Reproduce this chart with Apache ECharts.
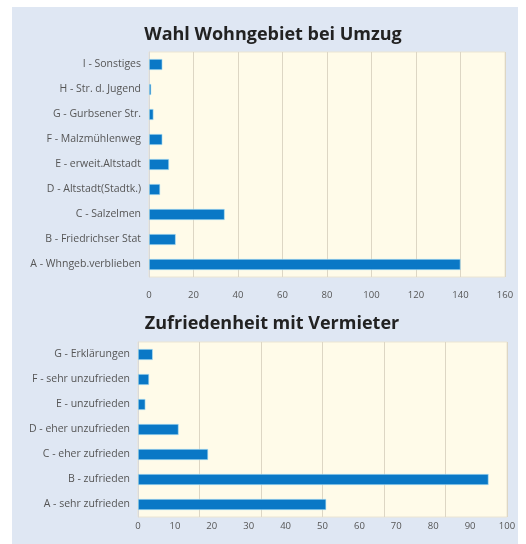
<!DOCTYPE html>
<html>
<head>
<meta charset="utf-8">
<script src="https://cdn.jsdelivr.net/npm/echarts@6/dist/echarts.min.js"></script>
<style>
  html, body { margin: 0; padding: 0; background: #fff; }
  #chart { width: 526px; height: 544px; }
</style>
</head>
<body>
<div id="chart"></div>
<script>
// Wahl Wohngebiet bei Umzug (von unten nach oben)
var areaLabels = ['A - Whngeb.verblieben', 'B - Friedrichser Stat', 'C - Salzelmen', 'D - Altstadt(Stadtk.)',
  'E - erweit.Altstadt', 'F - Malzmühlenweg', 'G - Gurbsener Str.', 'H - Str. d. Jugend', 'I - Sonstiges']
var areaValues = [140, 12, 34, 5, 9, 6, 2, 1, 6]
var areaTicks = [0, 20, 40, 60, 80, 100, 120, 140, 160]

// Zufriedenheit mit Vermieter
var satLabels = ['A - sehr zufrieden', 'B - zufrieden', 'C - eher zufrieden', 'D - eher unzufrieden',
  'E - unzufrieden', 'F - sehr unzufrieden', 'G - Erklärungen']
var satValues = [51, 95, 19, 11, 2, 3, 4]
var satTicks = [0, 10, 20, 30, 40, 50, 60, 70, 80, 90, 100]

var chart = echarts.init(document.getElementById('chart'))

var catStyle = { color: '#555', fontSize: 10.5, fontFamily: 'Open Sans' }
var tickStyle = { color: '#555', fontSize: 9.5, fontFamily: 'Open Sans' }
var gridLine = { show: true, lineStyle: { color: '#ddd6c4', width: 1 } }
var barStyle = { color: '#0a78c6', borderColor: '#b5e4f7', borderWidth: 0.6 }

chart.setOption({
  backgroundColor: '#ffffff',
  graphic: [{
    type: 'rect', z: -10,
    shape: { x: 12, y: 7, width: 506, height: 540 },
    style: { fill: '#dfe7f3' }
  }],
  title: [
    {
      text: 'Wahl Wohngebiet bei Umzug', left: 268, top: 21, textAlign: 'center',
      textStyle: { fontSize: 18, fontWeight: 'bold', color: '#222', fontFamily: 'Open Sans' }
    },
    {
      text: 'Zufriedenheit mit Vermieter', left: 267, top: 310, textAlign: 'center',
      textStyle: { fontSize: 18, fontWeight: 'bold', color: '#222', fontFamily: 'Open Sans' }
    }
  ],
  grid: [
    { left: 149, right: 21, top: 52, height: 225, show: true, backgroundColor: '#fffbe9', borderColor: '#ebe5d3', borderWidth: 1 },
    { left: 138, right: 19, top: 342, height: 175, show: true, backgroundColor: '#fffbe9', borderColor: '#ebe5d3', borderWidth: 1 }
  ],
  xAxis: [
    {
      gridIndex: 0, type: 'value', min: areaTicks[0], max: areaTicks[areaTicks.length - 1], interval: 20,
      axisLine: { show: false }, axisTick: { show: false },
      axisLabel: Object.assign({ margin: 13 }, tickStyle),
      splitLine: gridLine
    },
    {
      gridIndex: 1, type: 'value', min: satTicks[0], max: satTicks[satTicks.length - 1], interval: 10,
      axisLine: { show: false }, axisTick: { show: false },
      axisLabel: Object.assign({ margin: 4 }, tickStyle),
      splitLine: { show: false }
    },
    {
      // Gitterlinien unten laufen nicht im 10er-Raster
      gridIndex: 1, type: 'value', min: 0, max: 100, interval: 100 / 6,
      axisLine: { show: false }, axisTick: { show: false }, axisLabel: { show: false },
      splitLine: gridLine
    }
  ],
  yAxis: [
    {
      gridIndex: 0, type: 'category', data: areaLabels,
      axisLine: { show: true, lineStyle: { color: '#d9d9d9' } }, axisTick: { show: false },
      axisLabel: Object.assign({ margin: 8 }, catStyle)
    },
    {
      gridIndex: 1, type: 'category', data: satLabels,
      axisLine: { show: true, lineStyle: { color: '#d9d9d9' } }, axisTick: { show: false },
      axisLabel: Object.assign({ margin: 8 }, catStyle)
    }
  ],
  series: [
    {
      type: 'bar', xAxisIndex: 0, yAxisIndex: 0, data: areaValues,
      barWidth: 11, itemStyle: barStyle
    },
    {
      type: 'bar', xAxisIndex: 1, yAxisIndex: 1, data: satValues,
      barWidth: 11, itemStyle: barStyle
    }
  ]
})
</script>
</body>
</html>
